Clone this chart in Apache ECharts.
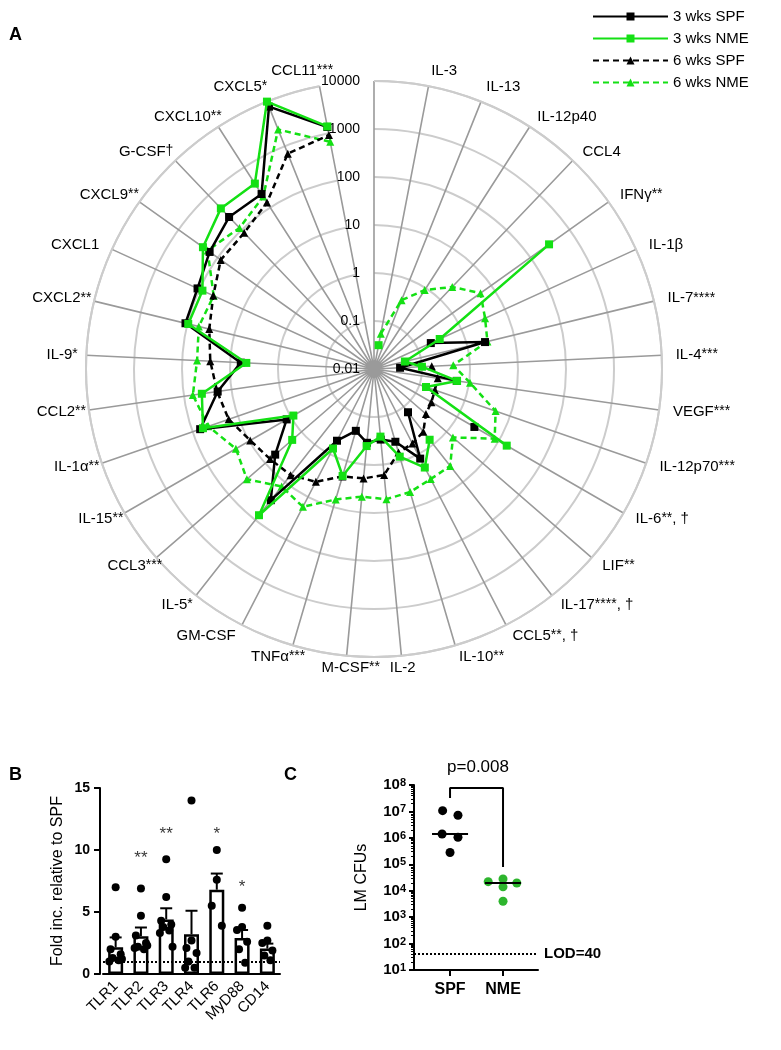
<!DOCTYPE html>
<html><head><meta charset="utf-8">
<script src="https://cdn.jsdelivr.net/npm/echarts@6/dist/echarts.min.js"></script>
<style>html,body{margin:0;padding:0;background:#fff}#c{width:781px;height:1050px}</style>
</head><body><div id="c"></div>
<script>
// ---------- Panel A: cytokine radar (log radius) ----------
const cytokines = ['', 'IL-3', 'IL-13', 'IL-12p40', 'CCL4', 'IFNγ', 'IL-1β', 'IL-7', 'IL-4', 'VEGF', 'IL-12p70', 'IL-6', 'LIF', 'IL-17', 'CCL5', 'IL-10', 'IL-2', 'M-CSF', 'TNFα', 'GM-CSF', 'IL-5', 'CCL3', 'IL-15', 'IL-1α', 'CCL2', 'IL-9', 'CXCL2', 'CXCL1', 'CXCL9', 'G-CSF', 'CXCL10', 'CXCL5', 'CCL11'];
const cytoSig = ['', '', '', '', '', '**', '', '****', '***', '***', '***', '**', '**', '****', '**', '**', '', '**', '***', '', '*', '***', '**', '**', '**', '*', '**', '', '**', '†', '**', '*', '***'];
const cytoSuffix = ['', '', '', '', '', '', '', '', '', '', '', ', †', '', ', †', ', †', '', '', '', '', '', '', '', '', '', '', '', '', '', '', '', '', '', ''];
const radarTickLabels = ['0.01', '0.1', '1', '10', '100', '1000', '10000'];

const spf3wk = [null, null, null, null, null, null, 0.2, 2.4, 0.035, 0.55, null, 2.6, null, 0.14, 1.26, 0.38, 0.3, 0.35, 0.22, 0.48, 30, 5.3, 1.26, 68, 19.5, 6, 110, 110, 160, 237, 215, 7700, 1365];
const nme3wk = [null, 0.032, null, null, null, 300, 0.32, 0.046, 0.1, 0.56, 0.14, 15.6, null, 0.75, 2.04, 0.8, 0.26, 0.41, 2.1, 0.73, 75, 1.8, 0.87, 59, 42, 4.6, 96, 85, 237, 420, 390, 10000, 1400];
const spf6wk = [null, null, null, null, null, null, null, null, 0.16, 0.22, 0.22, 0.24, 0.27, 0.46, 0.56, 0.65, 1.65, 1.95, 2.15, 4.4, 6.5, 7.3, 9.5, 16, 20, 26, 34, 48, 83, 83, 133, 680, 920];
const nme6wk = [null, 0.056, 0.35, 0.9, 2.3, 5.3, 3.5, 2.7, 0.45, 1.05, 4.8, 8, 1.5, 3.7, 3.8, 4.7, 5.3, 4.7, 6.8, 17, 13, 32, 21, 45, 65, 49, 57, 47, 180, 115, 186, 2370, 660];

// ---------- Panel B: TLR expression ----------
const tlrs = ['TLR1', 'TLR2', 'TLR3', 'TLR4', 'TLR6', 'MyD88', 'CD14'];
const tlrMean = [2.15, 3.05, 4.4, 3.2, 6.8, 2.9, 2.05];
const tlrSem = [0.8, 0.7, 0.9, 1.9, 1.3, 0.65, 0.4];
const tlrDots = [
  [7.0, 3.0, 2.0, 1.6, 1.3, 1.1, 1.0, 1.2],
  [6.9, 4.7, 3.1, 2.5, 2.2, 2.0, 2.1, 2.3],
  [9.25, 6.2, 4.3, 4.0, 3.8, 3.5, 3.3, 2.2],
  [14.0, 2.7, 2.1, 1.7, 1.0, 0.5, 0.5],
  [10.0, 7.6, 5.5, 3.9],
  [5.35, 3.8, 3.55, 2.6, 2.0, 0.9],
  [3.9, 2.7, 2.5, 1.9, 1.5, 1.1]
];
const tlrSig = ['', '**', '**', '', '*', '*', ''];
const tlrSigY = [0, 9.3, 11.3, 0, 11.3, 7.0, 0];
const dotJitter = [0, 0, -0.2, 0.2, -0.12, 0.12, -0.25, 0.25];

// ---------- Panel C: LM CFUs ----------
const groups = ['SPF', 'NME'];
const cfuSPF = [1.07e7, 7.2e6, 1.4e6, 1.05e6, 2.8e5];
const cfuNME = [2.8e4, 2.2e4, 1.95e4, 1.4e4, 4.0e3];
const jitSPF = [-0.14, 0.15, -0.15, 0.15, 0];
const jitNME = [0, -0.28, 0.26, 0, 0];
const bracket = [[0, 3.2e7], [0, 7.7e7], [1, 7.7e7], [1, 7.9e4]];
const LOD = 40;
const pText = 'p=0.008';

const FONT = '"Liberation Sans", Arial, sans-serif';
const BLACK = '#000000';
const GREEN = '#14e014';
const GREEN_DOT = '#2db52d';
const CLEAR = 'rgba(0,0,0,0)';
const RADAR_MIN = Number(radarTickLabels[0]);
const RADAR_MAX = Number(radarTickLabels[radarTickLabels.length - 1]);

function median(a) { const s = a.slice().sort((x, y) => x - y); const m = Math.floor(s.length / 2); return s.length % 2 ? s[m] : (s[m - 1] + s[m]) / 2; }

const measureCtx = document.createElement('canvas').getContext('2d');
function textW(t, px) { measureCtx.font = px + 'px "Liberation Sans", Arial, sans-serif'; return measureCtx.measureText(t).width; }

function cytoLabel(i) {
  let s = cytokines[i];
  if (cytoSig[i]) s += '{s|' + cytoSig[i] + '}';
  if (cytoSuffix[i]) s += cytoSuffix[i];
  return s;
}

// Labels around the radar, placed at the outer ring of each spoke
const nSpokes = cytokines.length;
const radarLabelData = [];
cytokines.forEach((c, k) => {
  if (!c) return;
  const th = k * 2 * Math.PI / nSpokes;
  const s = Math.sin(th), co = Math.cos(th);
  const align = s > 0.1 ? 'left' : (s < -0.1 ? 'right' : 'center');
  let ox = 14 * s;
  if (align === 'right' && cytoSig[k]) ox += textW(cytoSig[k], 14);
  if (align === 'center' && cytoSig[k]) ox += textW(cytoSig[k], 14) / 2;
  const oy = -12 * co - (co > 0.9 ? 4 : 0);
  radarLabelData.push({
    value: [RADAR_MAX, c],
    label: { position: [ox + 0.5, oy + 0.5], align: align, verticalAlign: 'middle' }
  });
});

const chart = echarts.init(document.getElementById('c'), null, { renderer: 'canvas' });

const radarSeries = [
  { name: '3 wks SPF', data: spf3wk, color: BLACK, type: 'solid', symbol: 'rect', z: 4 },
  { name: '3 wks NME', data: nme3wk, color: GREEN, type: 'solid', symbol: 'rect', z: 5 },
  { name: '6 wks SPF', data: spf6wk, color: BLACK, type: [6, 4], symbol: 'triangle', z: 3 },
  { name: '6 wks NME', data: nme6wk, color: GREEN, type: [6, 4], symbol: 'triangle', z: 2 }
].map(s => ({
  name: s.name, type: 'line', coordinateSystem: 'polar', data: s.data,
  symbol: s.symbol, symbolSize: 8, showSymbol: true, connectNulls: false,
  lineStyle: { color: s.color, width: 2.5, type: s.type },
  itemStyle: { color: s.color },
  z: s.z, animation: false
}));

const dotsB = [];
tlrDots.forEach((arr, i) => arr.forEach((v, j) => dotsB.push([i + dotJitter[j % dotJitter.length], v])));

const option = {
  animation: false,
  textStyle: { fontFamily: FONT },
  legend: {
    orient: 'vertical', left: 592, top: 9, padding: 0, itemWidth: 75, itemHeight: 10, itemGap: 7,
    textStyle: { fontSize: 15, color: BLACK, fontFamily: FONT },
    data: ['3 wks SPF', '3 wks NME', '6 wks SPF', '6 wks NME']
  },
  polar: { center: [374, 369], radius: 288 },
  angleAxis: {
    type: 'category', data: cytokines, boundaryGap: false, startAngle: 90, clockwise: true,
    axisLine: { show: true, lineStyle: { color: '#cccccc', width: 2 } },
    axisTick: { show: false, interval: 0 },
    splitLine: { show: true, interval: 0, lineStyle: { color: '#9a9a9a', width: 1.6 } },
    axisLabel: { show: false, interval: 0 },
    z: 1
  },
  radiusAxis: {
    type: 'log', logBase: 10, min: RADAR_MIN, max: RADAR_MAX,
    axisLine: { show: false }, axisTick: { show: false },
    axisLabel: { fontSize: 14, color: BLACK, margin: 14, fontFamily: FONT,
      formatter: (v) => radarTickLabels[Math.round(Math.log10(v)) + 2] },
    splitLine: { show: true, lineStyle: { color: '#cccccc', width: 2 } },
    z: 1
  },
  grid: [
    { left: 103, top: 788, width: 177, height: 186 },
    { left: 414, top: 785, width: 124, height: 185 }
  ],
  xAxis: [
    { gridIndex: 0, type: 'category', data: tlrs,
      axisLine: { onZero: false, lineStyle: { color: BLACK, width: 2 } },
      axisTick: { alignWithLabel: true, length: 6, lineStyle: { color: BLACK, width: 2 } },
      axisLabel: { rotate: 45, fontSize: 15, color: BLACK, margin: 10, interval: 0, fontFamily: FONT } },
    { gridIndex: 0, type: 'value', min: -0.5, max: 6.5, show: false },
    { gridIndex: 1, type: 'value', min: -0.68, max: 1.66,
      axisLine: { onZero: false, lineStyle: { color: BLACK, width: 2 } },
      axisTick: { show: true, customValues: [0, 1], length: 6, lineStyle: { color: BLACK, width: 2 } },
      axisLabel: { customValues: [0, 1], formatter: (v) => groups[Math.round(v)], fontSize: 16, fontWeight: 'bold', color: BLACK, margin: 12, fontFamily: FONT },
      splitLine: { show: false } }
  ],
  yAxis: [
    { gridIndex: 0, type: 'value', min: 0, max: 15, interval: 5, offset: 3,
      name: 'Fold inc. relative to SPF', nameLocation: 'middle', nameGap: 34,
      nameTextStyle: { fontSize: 16, color: BLACK, fontFamily: FONT },
      axisLine: { show: true, onZero: false, lineStyle: { color: BLACK, width: 2 } },
      axisTick: { show: true, length: 6, lineStyle: { color: BLACK, width: 2 } },
      axisLabel: { fontSize: 14, fontWeight: 'bold', color: BLACK, margin: 10, fontFamily: FONT },
      splitLine: { show: false } },
    { gridIndex: 1, type: 'log', logBase: 10, min: 10, max: 1e8,
      name: 'LM CFUs', nameLocation: 'middle', nameGap: 44,
      nameTextStyle: { fontSize: 16, color: BLACK, fontFamily: FONT },
      axisLine: { show: true, onZero: false, lineStyle: { color: BLACK, width: 2 } },
      axisTick: { show: true, length: 5, lineStyle: { color: BLACK, width: 2 } },
      minorTick: { show: true, splitNumber: 9, length: 3, lineStyle: { color: BLACK, width: 1 } },
      axisLabel: { fontSize: 15, fontWeight: 'bold', color: BLACK, margin: 8, fontFamily: FONT,
        formatter: (v) => '10{sup|' + Math.round(Math.log10(v)) + '}',
        rich: { sup: { fontSize: 11, fontWeight: 'bold', verticalAlign: 'top', color: BLACK, fontFamily: FONT } } },
      splitLine: { show: false }, minorSplitLine: { show: false } }
  ],
  graphic: [
    { type: 'text', left: 9, top: 26, style: { text: 'A', font: 'bold 18px ' + FONT, fill: BLACK } },
    { type: 'text', left: 9, top: 766, style: { text: 'B', font: 'bold 18px ' + FONT, fill: BLACK } },
    { type: 'text', left: 284, top: 766, style: { text: 'C', font: 'bold 18px ' + FONT, fill: BLACK } },
    { type: 'text', x: 478, y: 767, style: { text: pText, font: '17px ' + FONT, fill: BLACK, align: 'center', verticalAlign: 'middle' } }
  ],
  series: radarSeries.concat([
    { name: 'radarLabels', type: 'scatter', coordinateSystem: 'polar', data: radarLabelData,
      symbol: 'circle', symbolSize: 1, itemStyle: { color: CLEAR }, silent: true, z: 6,
      label: { show: true, fontSize: 15, color: BLACK, fontFamily: FONT, textBorderWidth: 0, opacity: 1,
        formatter: (p) => cytoLabel(cytokines.indexOf(p.value[1])),
        rich: { s: { fontSize: 14, verticalAlign: 'top', fontFamily: FONT, color: BLACK, textBorderWidth: 0 } } },
      labelLayout: { hideOverlap: false } },
    { name: 'meanB', type: 'bar', xAxisIndex: 0, yAxisIndex: 0, data: tlrMean, barWidth: 15,
      itemStyle: { color: '#ffffff', borderColor: BLACK, borderWidth: 2.5 }, z: 2,
      markLine: { silent: true, symbol: ['none', 'none'], label: { show: false },
        lineStyle: { color: BLACK, type: 'dotted', width: 2 }, data: [{ yAxis: 1 }] } },
    { name: 'errB', type: 'custom', xAxisIndex: 1, yAxisIndex: 0,
      data: tlrMean.map((m, i) => [i, m, m + tlrSem[i]]),
      renderItem: (params, api) => {
        const x = api.value(0);
        const p0 = api.coord([x, api.value(1)]);
        const p1 = api.coord([x, api.value(2)]);
        const hw = 6;
        return { type: 'group', children: [
          { type: 'line', shape: { x1: p0[0], y1: p0[1], x2: p1[0], y2: p1[1] }, style: { stroke: BLACK, lineWidth: 2 } },
          { type: 'line', shape: { x1: p1[0] - hw, y1: p1[1], x2: p1[0] + hw, y2: p1[1] }, style: { stroke: BLACK, lineWidth: 2 } }
        ] };
      }, z: 3 },
    { name: 'dotsB', type: 'scatter', xAxisIndex: 1, yAxisIndex: 0, data: dotsB,
      symbolSize: 8, itemStyle: { color: BLACK, opacity: 1 }, z: 4 },
    { name: 'sigB', type: 'scatter', xAxisIndex: 1, yAxisIndex: 0,
      data: tlrSig.map((s, i) => [i, tlrSigY[i], s]).filter(d => d[2]),
      symbolSize: 1, itemStyle: { color: CLEAR }, silent: true,
      label: { show: true, position: 'inside', formatter: (p) => p.value[2], fontSize: 17, color: BLACK, fontFamily: FONT, textBorderWidth: 0 }, z: 5 },
    { name: 'SPF', type: 'scatter', xAxisIndex: 2, yAxisIndex: 1,
      data: cfuSPF.map((v, i) => [jitSPF[i], v]), symbolSize: 9, itemStyle: { color: BLACK, opacity: 1 }, z: 4,
      markLine: { silent: true, symbol: ['none', 'none'],
        lineStyle: { color: BLACK, type: 'dotted', width: 2 },
        label: { show: true, position: 'end', formatter: 'LOD=' + LOD, fontSize: 15, fontWeight: 'bold', color: BLACK, distance: 6, fontFamily: FONT },
        data: [{ yAxis: LOD }] } },
    { name: 'NME', type: 'scatter', xAxisIndex: 2, yAxisIndex: 1,
      data: cfuNME.map((v, i) => [1 + jitNME[i], v]), symbolSize: 9, itemStyle: { color: GREEN_DOT, opacity: 1 }, z: 4 },
    { name: 'medC', type: 'custom', xAxisIndex: 2, yAxisIndex: 1,
      data: [[0, median(cfuSPF)], [1, median(cfuNME)]],
      renderItem: (params, api) => {
        const x = api.value(0), y = api.value(1);
        const a = api.coord([x - 0.34, y]);
        const b = api.coord([x + 0.34, y]);
        return { type: 'line', shape: { x1: a[0], y1: a[1], x2: b[0], y2: b[1] }, style: { stroke: BLACK, lineWidth: 2 } };
      }, z: 5 },
    { name: 'bracketC', type: 'line', xAxisIndex: 2, yAxisIndex: 1, data: bracket,
      symbol: 'none', lineStyle: { color: BLACK, width: 2 }, z: 3 }
  ])
};
chart.setOption(option);
</script>
</body></html>
